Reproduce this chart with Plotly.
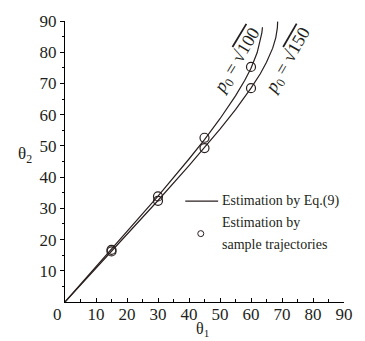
import plotly.graph_objects as go

# Curve p0 = sqrt(100): (theta1, theta2)
curve1_t1 = [0, 10, 20, 30, 40, 45, 50, 55, 58, 60, 62, 63, 63.5, 63.7]
curve1_t2 = [0, 11.2, 22.4, 33.9, 45.8, 52.0, 58.7, 66.0, 71.0, 74.9, 79.9, 83.5, 86.2, 88.0]
# Curve p0 = sqrt(150)
curve2_t1 = [0, 10, 20, 30, 40, 45, 50, 55, 60, 63, 65, 67, 68, 68.5, 68.6]
curve2_t2 = [0, 10.8, 21.6, 32.5, 43.7, 49.4, 55.4, 61.6, 68.5, 73.1, 76.8, 81.3, 84.7, 87.8, 89.8]
# Sample-trajectory estimates
samp_t1 = [15, 30, 45, 60]
samp1_t2 = [16.7, 33.8, 52.6, 75.3]
samp2_t2 = [16.2, 32.4, 49.3, 68.5]

x_ticks = [10, 20, 30, 40, 50, 60, 70, 80, 90]
y_ticks = [10, 20, 30, 40, 50, 60, 70, 80, 90]

INK = "#2a1f1f"
FONT = "Liberation Serif, Times New Roman, serif"
TXT = "#231f20"

fig = go.Figure()
for xs, ys in [(curve1_t1, curve1_t2), (curve2_t1, curve2_t2)]:
    fig.add_trace(go.Scatter(x=xs, y=ys, mode="lines",
                             line=dict(color=INK, width=1.2),
                             showlegend=False, hoverinfo="skip"))
for ys in [samp1_t2, samp2_t2]:
    fig.add_trace(go.Scatter(x=samp_t1, y=ys, mode="markers",
                             marker=dict(symbol="circle-open", size=9,
                                         color=INK, line=dict(width=1.2)),
                             showlegend=False, hoverinfo="skip"))

axis_common = dict(range=[0, 90], showgrid=False, zeroline=False,
                   showline=True, linecolor="black", linewidth=1.2,
                   tickfont=dict(family=FONT, size=17, color=TXT),
                   tickcolor="black", tickwidth=1)
fig.update_xaxes(**axis_common, tickvals=x_ticks, ticks="inside", ticklen=4,
                 ticklabelstandoff=-4,
                 minor=dict(tickvals=[5, 15, 25, 35, 45, 55, 65, 75, 85],
                            ticks="inside", ticklen=3, tickcolor="black"))
fig.update_yaxes(**axis_common, tickvals=y_ticks, ticks="outside", ticklen=4,
                 minor=dict(tickvals=[5, 15, 25, 35, 45, 55, 65, 75, 85],
                            ticks="outside", ticklen=2, tickcolor="black"))

ann = []
ann.append(dict(x=0, y=0, xref="x", yref="y", text="0", showarrow=False,
                xanchor="right", yanchor="top", xshift=-1, yshift=-1,
                font=dict(family=FONT, size=17, color=TXT)))
ann.append(dict(x=44.5, y=0, xref="x", yref="y", text="θ<sub>1</sub>",
                showarrow=False, xanchor="center", yanchor="top", yshift=-16,
                font=dict(family=FONT, size=16, color=TXT)))
ann.append(dict(x=0, y=47, xref="x", yref="y", text="θ<sub>2</sub>",
                showarrow=False, xanchor="center", yanchor="middle", xshift=-40,
                font=dict(family=FONT, size=17, color=TXT)))
ov = "<span style='text-decoration:overline'>{}</span>"
ann.append(dict(x=55.6, y=77.0, xref="x", yref="y",
                text="<i>p</i><sub>0</sub> = √" + ov.format("100"),
                showarrow=False, textangle=-59,
                font=dict(family=FONT, size=18, color=TXT)))
ann.append(dict(x=72.0, y=77.0, xref="x", yref="y",
                text="<i>p</i><sub>0</sub> = √" + ov.format("150"),
                showarrow=False, textangle=-60,
                font=dict(family=FONT, size=18, color=TXT)))
# legend texts
leg_font = dict(family=FONT, size=14, color=TXT)
ann.append(dict(x=50, y=32.3, xref="x", yref="y", text="Estimation by Eq.(9)",
                showarrow=False, xanchor="left", yanchor="middle", font=leg_font))
ann.append(dict(x=50, y=25.6, xref="x", yref="y", text="Estimation by",
                showarrow=False, xanchor="left", yanchor="middle", font=leg_font))
ann.append(dict(x=50, y=18.4, xref="x", yref="y", text="sample trajectories",
                showarrow=False, xanchor="left", yanchor="middle", font=leg_font))

shapes = [
    dict(type="line", xref="x", yref="y", x0=38.8, x1=49.4, y0=32.3, y1=32.3,
         line=dict(color=INK, width=1.2)),
    dict(type="circle", xref="x", yref="y", xsizemode="pixel", ysizemode="pixel",
         xanchor=43.8, yanchor=21.9, x0=-3, x1=3, y0=-3, y1=3,
         line=dict(color=INK, width=1)),
]

fig.update_layout(width=365, height=341,
                  margin=dict(l=65, r=12, t=16, b=39),
                  paper_bgcolor="white", plot_bgcolor="white",
                  annotations=ann, shapes=shapes, showlegend=False)

fig.write_html("out.html", config={"displayModeBar": False},
               post_script="document.body.style.margin='0';"
                           "document.body.style.overflow='hidden';")
